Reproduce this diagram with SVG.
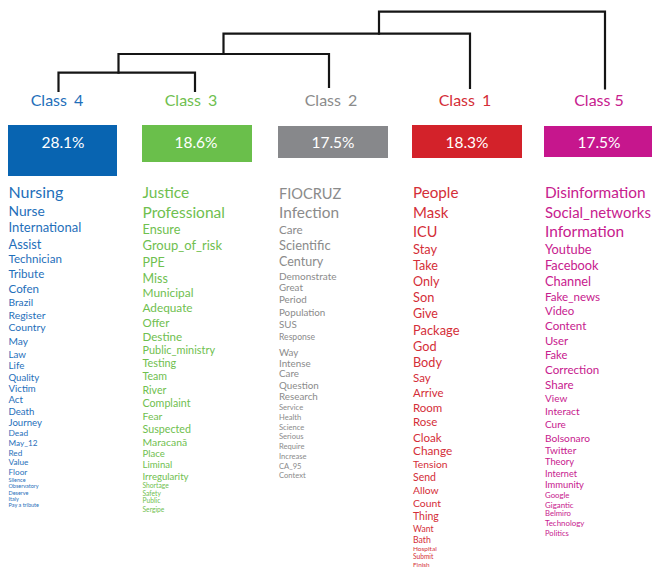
<svg xmlns="http://www.w3.org/2000/svg" width="652" height="569" viewBox="0 0 652 569">
<style>
text{font-family:Lato,"Open Sans","Liberation Sans",sans-serif}
.den{fill:none;stroke:#151515;stroke-width:2.2;stroke-linecap:square}
.lbl{font-size:16px;text-anchor:middle}
.pct{font-size:15.5px;fill:#fff;text-anchor:middle}
.c4{fill:#1f6fba}.c3{fill:#6fc04f}.c2{fill:#8b8b8b}.c1{fill:#d42e38}.c5{fill:#c7208e}
.b4{fill:#0864b1}.b3{fill:#6abf4b}.b2{fill:#87888b}.b1{fill:#d3222a}.b5{fill:#c6168d}
</style>
<rect width="652" height="569" fill="#fff"/>
<g id="connectors">
<path class="den" d="M58.5,91 V72.7 H195 V91"/>
<path class="den" d="M118.5,72.7 V54 H329 V87"/>
<path class="den" d="M223.5,54 V33.7 H470 V88"/>
<path class="den" d="M379,33.7 V11.7 H605 V88.5"/>
</g>
<g id="class4">
<text class="lbl c4" x="57" y="106" word-spacing="3">Class 4</text>
<rect class="b4" x="8" y="125" width="109" height="51"/>
<text class="pct" x="63" y="148">28.1%</text>
<g class="c4">
<text x="8.5" y="198.3" font-size="16">Nursing</text>
<text x="8.5" y="216" font-size="13.8">Nurse</text>
<text x="8.5" y="232" font-size="13">International</text>
<text x="8.5" y="248.5" font-size="12.8">Assist</text>
<text x="8.5" y="263" font-size="11.6">Technician</text>
<text x="8.5" y="278" font-size="11.6">Tribute</text>
<text x="8.5" y="293" font-size="11.6">Cofen</text>
<text x="8.5" y="306" font-size="10.2">Brazil</text>
<text x="8.5" y="318.5" font-size="10.4">Register</text>
<text x="8.5" y="331.3" font-size="10.4">Country</text>
<text x="8.5" y="344.7" font-size="10.2">May</text>
<text x="8.5" y="358" font-size="9.8">Law</text>
<text x="8.5" y="369" font-size="9.8">Life</text>
<text x="8.5" y="380.7" font-size="9.6">Quality</text>
<text x="8.5" y="392" font-size="9.6">Victim</text>
<text x="8.5" y="403" font-size="9.6">Act</text>
<text x="8.5" y="415" font-size="9.6">Death</text>
<text x="8.5" y="426" font-size="9.6">Journey</text>
<text x="8.5" y="436" font-size="8.4">Dead</text>
<text x="8.5" y="446.3" font-size="8.2">May_12</text>
<text x="8.5" y="456" font-size="8.2">Red</text>
<text x="8.5" y="465.3" font-size="8.2">Value</text>
<text x="8.5" y="475" font-size="8.2">Floor</text>
<text x="8.5" y="482" font-size="5.5">Silence</text>
<text x="8.5" y="488" font-size="5.5">Observatory</text>
<text x="8.5" y="495" font-size="5.5">Deserve</text>
<text x="8.5" y="500.7" font-size="5.5">Italy</text>
<text x="8.5" y="507.3" font-size="5.5">Pay a tribute</text>
</g>
</g>
<g id="class3">
<text class="lbl c3" x="191" y="106" word-spacing="3">Class 3</text>
<rect class="b3" x="142" y="125" width="110" height="37"/>
<text class="pct" x="196" y="148">18.6%</text>
<g class="c3">
<text x="142.5" y="198.3" font-size="15.5">Justice</text>
<text x="142.5" y="218.3" font-size="15.5">Professional</text>
<text x="142.5" y="234" font-size="12.7">Ensure</text>
<text x="142.5" y="250" font-size="13">Group_of_risk</text>
<text x="142.5" y="266.7" font-size="12.5">PPE</text>
<text x="142.5" y="282.7" font-size="12.5">Miss</text>
<text x="142.5" y="297.3" font-size="11.9">Municipal</text>
<text x="142.5" y="312" font-size="11.8">Adequate</text>
<text x="142.5" y="327" font-size="11.5">Offer</text>
<text x="142.5" y="341" font-size="11.6">Destine</text>
<text x="142.5" y="354" font-size="10.9">Public_ministry</text>
<text x="142.5" y="367.3" font-size="10.8">Testing</text>
<text x="142.5" y="380" font-size="10.6">Team</text>
<text x="142.5" y="394.3" font-size="10.6">River</text>
<text x="142.5" y="407" font-size="10.7">Complaint</text>
<text x="142.5" y="420" font-size="10.4">Fear</text>
<text x="142.5" y="433" font-size="10.7">Suspected</text>
<text x="142.5" y="445.7" font-size="10.4">Maracanã</text>
<text x="142.5" y="457.3" font-size="9.6">Place</text>
<text x="142.5" y="468.3" font-size="9.6">Liminal</text>
<text x="142.5" y="480" font-size="9.6">Irregularity</text>
<text x="142.5" y="487.7" font-size="6.7">Shortage</text>
<text x="142.5" y="495.7" font-size="6.7">Safety</text>
<text x="142.5" y="503.3" font-size="6.7">Public</text>
<text x="142.5" y="512.3" font-size="6.7">Sergipe</text>
</g>
</g>
<g id="class2">
<text class="lbl c2" x="331" y="106" word-spacing="3">Class 2</text>
<rect class="b2" x="278" y="126" width="110" height="32"/>
<text class="pct" x="333" y="148">17.5%</text>
<g class="c2">
<text x="279" y="199" font-size="14.6">FIOCRUZ</text>
<text x="279" y="218.3" font-size="15.4">Infection</text>
<text x="279" y="234" font-size="11.6">Care</text>
<text x="279" y="250" font-size="12.9">Scientific</text>
<text x="279" y="266" font-size="12.5">Century</text>
<text x="279" y="279.5" font-size="10">Demonstrate</text>
<text x="279" y="291" font-size="9.8">Great</text>
<text x="279" y="303" font-size="9.8">Period</text>
<text x="279" y="315.5" font-size="9.8">Population</text>
<text x="279" y="328" font-size="9.8">SUS</text>
<text x="279" y="340" font-size="8.6">Response</text>
<text x="279" y="356" font-size="9.8">Way</text>
<text x="279" y="366.7" font-size="9.8">Intense</text>
<text x="279" y="377.3" font-size="9.8">Care</text>
<text x="279" y="389" font-size="9.8">Question</text>
<text x="279" y="400.3" font-size="9.8">Research</text>
<text x="279" y="410.3" font-size="7.6">Service</text>
<text x="279" y="420.3" font-size="7.6">Health</text>
<text x="279" y="430.3" font-size="7.6">Science</text>
<text x="279" y="439.3" font-size="7.6">Serious</text>
<text x="279" y="449.3" font-size="7.6">Require</text>
<text x="279" y="459.3" font-size="7.6">Increase</text>
<text x="279" y="469.3" font-size="7.6">CA_95</text>
<text x="279" y="478.3" font-size="7.6">Context</text>
</g>
</g>
<g id="class1">
<text class="lbl c1" x="465" y="106" word-spacing="3">Class 1</text>
<rect class="b1" x="412" y="125" width="110" height="33"/>
<text class="pct" x="467" y="148">18.3%</text>
<g class="c1">
<text x="413" y="198.3" font-size="15.2">People</text>
<text x="413" y="217.7" font-size="15">Mask</text>
<text x="413" y="236.7" font-size="14.5">ICU</text>
<text x="413" y="254" font-size="12.8">Stay</text>
<text x="413" y="270" font-size="12.6">Take</text>
<text x="413" y="285.5" font-size="12.6">Only</text>
<text x="413" y="302" font-size="12.8">Son</text>
<text x="413" y="318.3" font-size="12.5">Give</text>
<text x="413" y="335" font-size="12.9">Package</text>
<text x="413" y="351" font-size="12.7">God</text>
<text x="413" y="367.3" font-size="12.7">Body</text>
<text x="413" y="382.3" font-size="11.5">Say</text>
<text x="413" y="397.3" font-size="11.4">Arrive</text>
<text x="413" y="411.7" font-size="11.5">Room</text>
<text x="413" y="426" font-size="11.5">Rose</text>
<text x="413" y="441.7" font-size="11.6">Cloak</text>
<text x="413" y="455" font-size="11.8">Change</text>
<text x="413" y="468.3" font-size="10.3">Tension</text>
<text x="413" y="481" font-size="10.5">Send</text>
<text x="413" y="494.3" font-size="10.3">Allow</text>
<text x="413" y="507.3" font-size="10.4">Count</text>
<text x="413" y="520" font-size="10.5">Thing</text>
<text x="413" y="531.7" font-size="8.6">Want</text>
<text x="413" y="542.7" font-size="8.7">Bath</text>
<text x="413" y="550.7" font-size="6.5">Hospital</text>
<text x="413" y="559.3" font-size="6.6">Submit</text>
<text x="413" y="567.3" font-size="6.4">Finish</text>
</g>
</g>
<g id="class5">
<text class="lbl c5" x="599" y="106">Class 5</text>
<rect class="b5" x="544" y="126" width="108" height="31"/>
<text class="pct" x="599" y="148">17.5%</text>
<g class="c5">
<text x="545" y="198.3" font-size="15.4">Disinformation</text>
<text x="545" y="218.3" font-size="14.9">Social_networks</text>
<text x="545" y="237.3" font-size="15.4">Information</text>
<text x="545" y="254" font-size="12.8">Youtube</text>
<text x="545" y="270" font-size="12.8">Facebook</text>
<text x="545" y="285.7" font-size="12.8">Channel</text>
<text x="545" y="300.7" font-size="11.6">Fake_news</text>
<text x="545" y="315" font-size="11.4">Video</text>
<text x="545" y="330" font-size="11.6">Content</text>
<text x="545" y="345" font-size="11.4">User</text>
<text x="545" y="358.7" font-size="11.2">Fake</text>
<text x="545" y="374" font-size="11.6">Correction</text>
<text x="545" y="389" font-size="11.6">Share</text>
<text x="545" y="402" font-size="10">View</text>
<text x="545" y="415" font-size="10.2">Interact</text>
<text x="545" y="428" font-size="10">Cure</text>
<text x="545" y="441.7" font-size="10.2">Bolsonaro</text>
<text x="545" y="454" font-size="10.1">Twitter</text>
<text x="545" y="465" font-size="9.3">Theory</text>
<text x="545" y="476.7" font-size="9.1">Internet</text>
<text x="545" y="488.3" font-size="9.4">Immunity</text>
<text x="545" y="497.7" font-size="7.8">Google</text>
<text x="545" y="507.7" font-size="7.9">Gigantic</text>
<text x="545" y="516.3" font-size="7.7">Belmiro</text>
<text x="545" y="526" font-size="7.9">Technology</text>
<text x="545" y="536" font-size="7.6">Politics</text>
</g>
</g>
</svg>
